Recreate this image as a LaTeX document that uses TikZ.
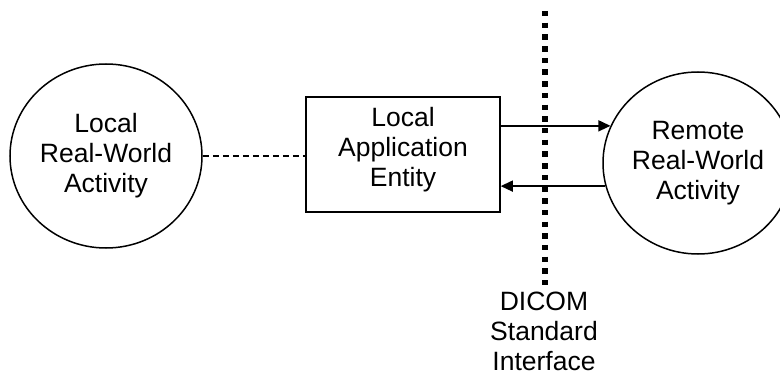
\documentclass[tikz,border=0pt]{standalone}
\usepackage{fontspec}
\setmainfont{Liberation Sans}
\usetikzlibrary{shapes.geometric,arrows.meta}
\begin{document}
\begin{tikzpicture}[x=1pt,y=-1pt,
  txt/.style={font=\fontsize{26.5}{30}\selectfont, align=center, inner sep=0pt},
  actor/.style={ellipse, draw, line width=1.5pt, inner sep=0pt, txt},
  aebox/.style={rectangle, draw, line width=1.5pt, minimum width=194pt, minimum height=115pt, inner sep=0pt},
  flow/.style={line width=1.4pt, -{Triangle[length=12pt,width=11pt]}},
  link/.style={line width=1.4pt, dash pattern=on 6pt off 4pt},
  border/.style={line width=6pt, dash pattern=on 5.5pt off 6.2pt}
]
\useasboundingbox (0,0) rectangle (780,377);
\clip (0,0) rectangle (780,377);
\node[actor, minimum width=192pt, minimum height=184pt] (lc) at (106,156) {Local\\Real-World\\Activity};
\node[actor, minimum width=190pt, minimum height=182pt] (rc) at (698,163) {Remote\\Real-World\\Activity};
\node[aebox] (box) at (403,154.5) {};
\node[txt] (boxtxt) at (403,150) {Local\\Application\\Entity};
\coordinate (dtop) at (545,11);
\coordinate (dbot) at (545,285);
\draw[border] (dtop) -- (dbot);
\node[txt] (dicom) at (544,331.5) {DICOM\\Standard\\Interface};
\draw[link] (lc.east) -- (lc.east -| box.west);
\draw[flow] (box.east |- rc.157.6) -- (rc.157.6);
\draw[flow] (rc.194) -- (box.east |- rc.194);
\end{tikzpicture}
\end{document}
